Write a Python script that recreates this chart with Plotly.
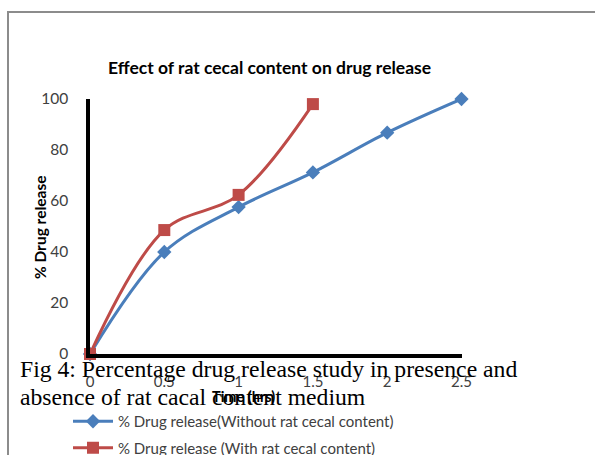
import plotly.graph_objects as go

# Release profile data (time in hours, cumulative % drug released)
time_without = [0, 0.5, 1, 1.5, 2, 2.5]
release_without = [0, 40, 57.6, 71.2, 86.8, 100]
time_with = [0, 0.5, 1, 1.5]
release_with = [0, 48.6, 62.4, 98]

x_ticks = [0, 0.5, 1, 1.5, 2, 2.5]
x_tick_text = ["0", "0.5", "1", "1.5", "2", "2.5"]
y_ticks = [0, 20, 40, 60, 80, 100]

W, H = 595, 455
L, R, T, B = 90, 461.5, 99, 354  # plot area in pixels


def fx(x):
    return x / W


def fy(y):
    return 1 - y / H


BLUE = "#4A7EBB"
RED = "#BE4B48"
SANS = "Lato, 'Open Sans', sans-serif"
SERIF = "'Liberation Serif', 'DejaVu Serif', serif"

fig = go.Figure()
fig.add_trace(go.Scatter(
    x=time_without, y=release_without, mode="lines+markers",
    name="% Drug release(Without rat cecal content)",
    line=dict(color=BLUE, width=3, shape="spline", smoothing=1.0),
    marker=dict(symbol="diamond", size=11, color=BLUE),
    cliponaxis=False, legendgroup="a",
))
fig.add_trace(go.Scatter(
    x=time_with, y=release_with, mode="lines+markers",
    name="% Drug release (With rat cecal content)",
    line=dict(color=RED, width=3, shape="spline", smoothing=1.0),
    marker=dict(symbol="square", size=12, color=RED),
    cliponaxis=False, legendgroup="b",
))

fig.update_layout(
    width=W, height=H,
    margin=dict(l=0, r=0, t=0, b=0, pad=0, autoexpand=False),
    paper_bgcolor="white", plot_bgcolor="rgba(0,0,0,0)",
    font=dict(family=SANS, size=15, color="#404040"),
    showlegend=True,
    legend=dict(
        x=fx(68), y=fy(405), xanchor="left", yanchor="top",
        font=dict(family=SANS, size=15, color="#404040"),
        traceorder="grouped", tracegroupgap=4, itemwidth=40,
        bgcolor="rgba(0,0,0,0)",
    ),
    xaxis=dict(
        domain=[fx(L), fx(R)], automargin=False,
        range=[0, 2.5], tickvals=x_ticks, ticktext=x_tick_text,
        showgrid=False, zeroline=False, showline=True,
        linecolor="black", linewidth=3.5, ticks="",
        ticklabelstandoff=11, tickfont=dict(size=15, color="#404040"),
    ),
    yaxis=dict(
        domain=[fy(B), fy(T)], automargin=False,
        range=[0, 100], tickvals=y_ticks,
        showgrid=False, zeroline=False, showline=True,
        linecolor="black", linewidth=3.5, ticks="",
        ticklabelstandoff=15, tickfont=dict(size=15.5, color="#404040"),
    ),
)

# Outer chart border
fig.add_shape(type="rect", xref="paper", yref="paper",
              x0=fx(8), x1=fx(700), y0=fy(12), y1=fy(600),
              line=dict(color="#8C8C8C", width=2), layer="below")

annotations = [
    dict(text="<b>Effect of rat cecal content on drug release</b>",
         x=fx(269), y=fy(67), font=dict(family=SANS, size=17.5, color="black")),
    dict(text="<b>% Drug release</b>", textangle=-90,
         x=fx(40), y=fy(227), font=dict(family=SANS, size=15.5, color="black")),
    dict(text="<b>Time (hrs)</b>",
         x=fx(243), y=fy(396), font=dict(family=SANS, size=14.5, color="black")),
    dict(text="Fig 4: Percentage drug release study in presence and",
         x=fx(18), y=fy(369), xanchor="left",
         font=dict(family=SERIF, size=23.7, color="black")),
    dict(text="absence of rat cacal content medium",
         x=fx(18), y=fy(397), xanchor="left",
         font=dict(family=SERIF, size=23.7, color="black")),
]
for a in annotations:
    a.setdefault("xanchor", "center")
    fig.add_annotation(xref="paper", yref="paper", showarrow=False,
                       yanchor="middle", **a)

fig.write_html("out.html")
